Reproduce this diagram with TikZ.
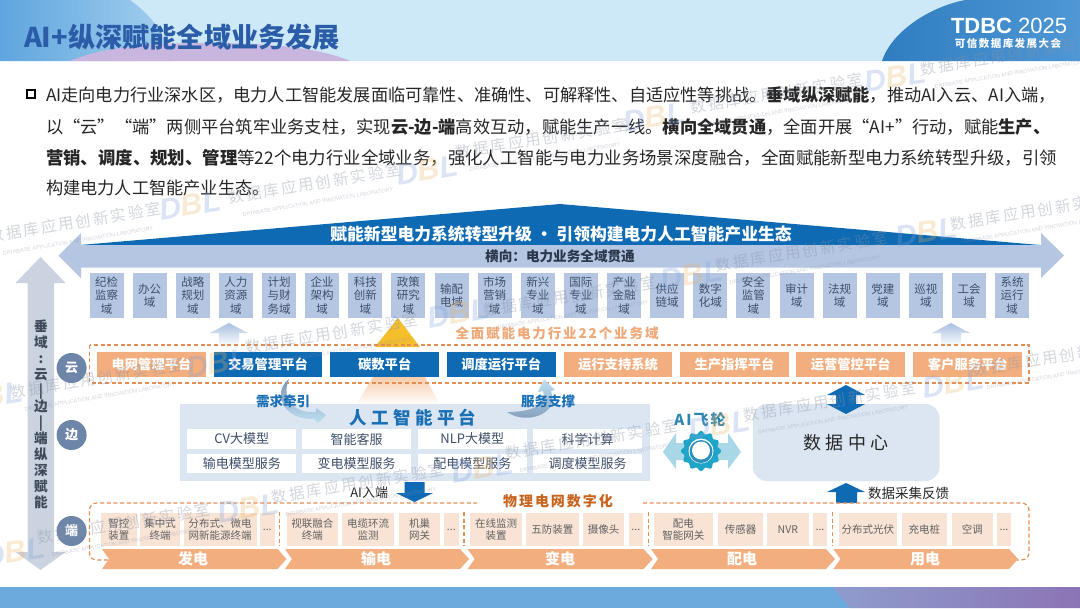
\documentclass[tikz,border=0pt]{standalone}
\usepackage{fontspec}
\setmainfont{Noto Sans CJK SC}
\newfontfamily\spaced[LetterSpace=14]{Noto Sans CJK SC}
\newfontfamily\spacedb[LetterSpace=25]{Noto Sans CJK SC}
\newfontfamily\latinf{Liberation Sans}
\usetikzlibrary{shapes.geometric,calc}
\definecolor{bdark}{HTML}{0F6AB4}
\definecolor{bband}{HTML}{B4C6E2}
\definecolor{oran}{HTML}{F2AE7E}
\definecolor{oranl}{HTML}{F8E3D5}
\definecolor{dashc}{HTML}{E58E52}
\definecolor{pale}{HTML}{DCE6F3}
\definecolor{slatec}{HTML}{6D85A8}
\definecolor{gtxt}{HTML}{3D4F6B}
\definecolor{hlight}{HTML}{CDE8F6}
\definecolor{hblue}{HTML}{5FA5DE}
\definecolor{hblue2}{HTML}{A4D0EE}
\definecolor{hpurple}{HTML}{C8B6DE}
\definecolor{rblue}{HTML}{2F7DC0}
\definecolor{rblue2}{HTML}{4F97D5}
\definecolor{band}{HTML}{6CA9DC}
\definecolor{bandp}{HTML}{8B74B5}
\definecolor{bandq}{HTML}{8F9CCD}
\definecolor{vgray}{HTML}{CBD3E0}
\definecolor{vtxt}{HTML}{3F4A5A}
\definecolor{titlec}{HTML}{2A5CA8}
\definecolor{ptitle}{HTML}{1B6FB5}
\definecolor{teal}{HTML}{1FA5C8}
\definecolor{teald}{HTML}{2C8FBC}
\definecolor{flyarrow}{HTML}{A8D8E8}
\definecolor{flytxt}{HTML}{2C86B0}
\definecolor{physc}{HTML}{C8641E}
\definecolor{empc}{HTML}{EFA878}
\definecolor{yel}{HTML}{F5BE2B}
\definecolor{swa}{HTML}{7C96B4}
\definecolor{swb}{HTML}{BFE0F2}
\definecolor{fadeb}{HTML}{A9C0E0}
\definecolor{peach}{HTML}{F7CDAD}
\definecolor{wmc}{HTML}{8A93A6}
\definecolor{wmo}{HTML}{E8B463}
\definecolor{wmb}{HTML}{7F9FD8}
\newcommand{\fs}[1]{\pgfmathsetmacro\fsA{#1*0.75}\pgfmathsetmacro\fsB{#1*0.75*1.17}\fontsize{\fsA pt}{\fsB pt}\selectfont}
\newcommand{\chevshape}[2]{(#1,549) -- ({#2-9},549) -- (#2,559) -- ({#2-9},569) -- (#1,569) -- ({#1+7},559) -- cycle}
\newcommand{\ddd}{{.}{.}{.}}
\newcommand{\wmtext}{{\spaced\fs{15.5}数据库应用创新实验室}\\[-1pt]{\latinf\fs{5.5}DATABASE APPLICATION AND INNOVATION LABORATORY}}
\tikzset{
 x=0.75pt,y=-0.75pt,
 every node/.style={inner sep=0,outer sep=0},
 dom/.style={fill=bband,text=gtxt,minimum width=25.5pt,minimum height=33.75pt,align=center,font=\fs{11.5}},
 plat/.style={minimum width=81.5pt,minimum height=18.75pt,text=white,font=\fs{13.3}\bfseries},
 platO/.style={plat,fill=oran},
 platB/.style={plat,fill=bdark},
 tier/.style={circle,fill=slatec,minimum size=22.5pt,text=white,font=\fs{13}\bfseries},
 model/.style={fill=white,minimum width=81.5pt,minimum height=14.5pt,text=gtxt,font=\fs{13}},
 dev/.style={fill=oranl,text=black!62,align=center,minimum height=24.75pt,font=\fs{10.5}},
 chevlab/.style={text=white,font=\fs{15}\bfseries},
 dline/.style={draw=dashc,dash pattern=on 3pt off 2pt,line width=0.9pt},
 para/.style={anchor=west,text=black!85},
 wmt/.style={rotate=9.5,text=wmc,opacity=0.38,align=center},
 wml/.style={rotate=9.5,opacity=0.28,font=\latinf\bfseries\itshape\fs{30}},
}
\begin{document}
\begin{tikzpicture}
\useasboundingbox (0,0) rectangle (1080,608);
\fill[white] (0,0) rectangle (1080,608);
% header
\fill[hlight] (0,0) rectangle (1080,61);
\shade[left color=hblue,right color=hblue2] (0,0) -- (130,0) .. controls (155,18) and (168,40) .. (172,61) -- (0,61) -- cycle;
\fill[hpurple] (70,61) .. controls (110,44) and (170,43) .. (210,43) .. controls (270,43) and (320,48) .. (350,61) -- cycle;
\shade[left color=rblue,right color=rblue2] (882,61) .. controls (890,35) and (925,8) .. (965,0) -- (1080,0) -- (1080,61) -- cycle;
\node[anchor=west,text=titlec,font=\fs{27.2}\bfseries] (title) at (24,37) {AI+纵深赋能全域业务发展};
\node[anchor=west,text=white,font=\latinf\fs{22}] (tdbc) at (951,26) {\textbf{TDBC} 2025};
\node[text=white,font=\spaced\fs{10.5}\bfseries] (tdbcsub) at (1008,44) {可信数据库发展大会};
% bottom band
\fill[band] (0,587) rectangle (1080,608);
\shade[left color=bandq,right color=bandp] (833,587) -- (1080,587) -- (1080,608) -- (850,608) -- cycle;
% paragraph
\draw[black,line width=1.3pt] (27,90) rectangle (35,98);
\node[para,font=\fs{17.2}] (l1) at (46,95) {AI走向电力行业深水区，电力人工智能发展面临可靠性、准确性、可解释性、自适应性等挑战。{\bfseries 垂域纵深赋能}，推动AI入云、AI入端，};
\node[para,font=\fs{17.25}] (l2) at (46,127) {以“云”“端”两侧平台筑牢业务支柱，实现{\bfseries 云-边-端}高效互动，赋能生产一线。{\bfseries 横向全域贯通}，全面开展“AI+”行动，赋能{\bfseries 生产、}};
\node[para,font=\fs{17.4}] (l3) at (46,158) {{\bfseries 营销、调度、规划、管理}等22个电力行业全域业务，强化人工智能与电力业务场景深度融合，全面赋能新型电力系统转型升级，引领};
\node[para,font=\fs{17.2}] (l4) at (46,188) {构建电力人工智能产业生态。};
% top banner
\fill[bdark] (80,245) -- (560,204) -- (1040,245) -- cycle;
\fill[bband] (58.5,255.5) -- (81,233) -- (81,245) -- (1041,245) -- (1041,233) -- (1064,255.5) -- (1041,278) -- (1041,267.5) -- (81,267.5) -- (81,278) -- cycle;
\node[text=white,font=\fs{16.8}\bfseries] (toptxt) at (561,234) {赋能新型电力系统转型升级 · 引领构建电力人工智能产业生态};
\node[text=gtxt!70!black,font=\fs{13.6}\bfseries] (hor) at (560,256) {横向：电力业务全域贯通};
% 22 domains
\foreach \t [count=\i] in {纪检\\监察\\域,办公\\域,战略\\规划\\域,人力\\资源\\域,计划\\与财\\务域,企业\\架构\\域,科技\\创新\\域,政策\\研究\\域,输配\\电域,市场\\营销\\域,新兴\\专业\\域,国际\\专业\\域,产业\\金融\\域,供应\\链域,数字\\化域,安全\\监管\\域,审计\\域,法规\\域,党建\\域,巡视\\域,工会\\域,系统\\运行\\域}
  \node[dom] (dom\i) at ({106.6+43.12*(\i-1)},295.5) {\t};
% fading up arrows
\shade[top color=fadeb,bottom color=white] (229,323) -- (248,333) -- (239,333) -- (239,346) -- (219,346) -- (219,333) -- (210,333) -- cycle;
\shade[top color=fadeb,bottom color=white] (951,323) -- (970,333) -- (961,333) -- (961,346) -- (941,346) -- (941,333) -- (932,333) -- cycle;
\fill[yel] (398,318) -- (420,347) -- (375,347) -- cycle;
\shade[top color=peach,bottom color=white] (373,377) -- (425,377) -- (440,405) -- (356,405) -- cycle;
\node[text=empc,font=\spaced\fs{13.5}\bfseries] (empow) at (557,333) {全面赋能电力行业22个业务域};
% left vertical arrow
\fill[vgray] (40.6,257) -- (65.5,283) -- (54,283) -- (54,552) -- (65.5,552) -- (40.6,570) -- (15.5,552) -- (27.5,552) -- (27.5,283) -- (15.5,283) -- cycle;
\node[text=vtxt,align=center,font=\fontsize{10.2pt}{12pt}\selectfont\bfseries] (vert) at (41,414) {垂\\域\\:\\云\\|\\边\\|\\端\\纵\\深\\赋\\能};
\node[tier] (tc) at (71.6,368) {云};
\node[tier] (te) at (71.6,435) {边};
\node[tier] (td) at (71.6,531) {端};
% cloud frame
\draw[dline] (89.5,345) rectangle (1029,383);
\foreach \n/\x/\s/\t in {p1/151.5/platO/电网管理平台,p2/268/platB/交易管理平台,p3/384.7/platB/碳数平台,p4/501.2/platB/调度运行平台,p5/618/platO/运行支持系统,p6/734.5/platO/生产指挥平台,p7/850.7/platO/运营管控平台,p8/967.8/platO/客户服务平台}
  \node[\s] (\n) at (\x,364.5) {\t};
% AI platform
\fill[pale] (180,404) rectangle (650,481);
% swooshes
\shade[top color=swa,bottom color=swb] (289,379) .. controls (272,392) and (282,420) .. (314,419) -- (318,423) -- (326,415) -- (316,408) -- (316,412) .. controls (296,414) and (280,400) .. (289,379) -- cycle;
\shade[top color=swb,bottom color=swa] (507,412) .. controls (525,425) and (560,415) .. (551,391) -- (555,390) -- (544,379) -- (538,392) -- (543,391) .. controls (548,408) and (525,412) .. (507,412) -- cycle;
\node[text=ptitle,font=\spacedb\fs{17.5}\bfseries] (aititle) at (413,418) {人工智能平台};
\node[text=ptitle,font=\fs{13.5}\bfseries] (need) at (283,401) {需求牵引};
\node[text=ptitle,font=\fs{13.5}\bfseries] (serve) at (548,401) {服务支撑};
\foreach \n/\x/\y/\t in {m1/241.8/439/CV大模型,m2/356.7/439/智能客服,m3/472.3/439/NLP大模型,m4/587.5/439/科学计算,m5/241.8/463.5/输电模型服务,m6/356.7/463.5/变电模型服务,m7/472.3/463.5/配电模型服务,m8/587.5/463.5/调度模型服务}
  \node[model] (\n) at (\x,\y) {\t};
% AI flywheel
\fill[flyarrow] (663,452) -- (676,433) -- (676,443) -- (728,443) -- (728,433) -- (741,452) -- (728,469) -- (728,460) -- (676,460) -- (676,469) -- cycle;
\fill[teal] plot[domain=0:360,samples=121,smooth] ({701+(18.6+1.5*cos(12*\x))*cos(\x)},{451+(18.6+1.5*cos(12*\x))*sin(\x)}) -- cycle;
\fill[white] (701,451) circle[radius=12.5];
\fill[teald] (701,451.5) circle[radius=11.5];
\fill[white] (701,450.5) circle[radius=9];
\node[text=flytxt,font=\spaced\fs{15}\bfseries] (fly) at (700,420) {AI飞轮};
% data centre
\fill[pale,rounded corners=10.5pt] (753,404) rectangle (939.5,481);
\node[text=black!85,font=\spacedb\fs{18}] (dc) at (846,443) {数据中心};
\fill[bdark] (846,385) -- (865,395) -- (856,395) -- (856,404) -- (865,404) -- (846,414) -- (827,404) -- (836,404) -- (836,395) -- (827,395) -- cycle;
\fill[bdark] (846,483) -- (865,492) -- (857,492) -- (857,503) -- (836,503) -- (836,492) -- (827,492) -- cycle;
\node[anchor=west,text=black!85,font=\fs{13.5}] (fb) at (868,493) {数据采集反馈};
\fill[bdark] (404.6,482) -- (424.6,482) -- (424.6,493) -- (433,493) -- (414.5,502) -- (396,493) -- (404.6,493) -- cycle;
\node[anchor=east,text=black!85,font=\fs{13}] (aiend) at (388,493) {AI入端};
\node[text=physc,font=\spaced\fs{14}\bfseries] (phys) at (558,501) {物理电网数字化};
% end frame
\draw[dline] (108,560) -- (97,560) .. controls (92,560) and (89.5,557) .. (89.5,552) -- (89.5,511) .. controls (89.5,506) and (92,503) .. (97,503) -- (477,503);
\draw[dline] (643,503) -- (1021,503) .. controls (1026,503) and (1029,506) .. (1029,511) -- (1029,552) .. controls (1029,557) and (1026,560) .. (1021,560) -- (1017,560);
\foreach \x in {279.6,464,648.5,832.7} \draw[dline] (\x,512) -- (\x,546);
\foreach \n/\a/\b/\t in {d1/101/136.7/智控\\装置,d2/140/180/集中式\\终端,d3/183.5/256.5/分布式、微电\\网新能源终端,d4/260/274.5/\ddd,d5/287/337.5/视联融合\\终端,d6/342/394/电缆环流\\监测,d7/399/440/机巢\\网关,d8/444/458.7/\ddd,d9/470/522/在线监测\\装置,d10/526/578.6/五防装置,d11/583/624/摄像头,d12/629/642.6/\ddd,d13/653.6/713/配电\\智能网关,d14/718/763/传感器,d15/767/808.6/NVR,d16/813/827/\ddd,d17/838.5/897/分布式光伏,d18/901.6/947/充电桩,d19/951.5/993/空调,d20/997/1011/\ddd}
  \node[dev,minimum width={(\b-\a)*0.75pt}] (\n) at ({(\a+\b)/2},529.5) {\t};
% chevrons
\fill[oran] \chevshape{102}{286.5};
\fill[oran] \chevshape{285}{469};
\fill[oran] \chevshape{467.6}{652.6};
\fill[oran] \chevshape{651}{835};
\fill[oran] \chevshape{833.4}{1018};
\node[chevlab] (c1) at (193,559) {发电};
\node[chevlab] (c2) at (376,559) {输电};
\node[chevlab] (c3) at (560,559) {变电};
\node[chevlab] (c4) at (742,559) {配电};
\node[chevlab] (c5) at (925,559) {用电};
% watermarks
\node[wmt] (marke) at (76,229) {\wmtext};
\foreach \k/\lx/\ly/\tx/\ty in {a/895/77/1005/57,b/654/117/775/95,c/427/170/540/140,d/190/205/313/185,f/926/232/1035/212,g/691/275/800/253,h/458/313/568/298,i/217/363/330/335,j/-8/396/95/380,k/953/383/1057/358,l/248/508/356/485,m/14/552/122/525,n/482/468/590/441,o/719/425/828/403}{
  \node[wml] (logo\k) at (\lx,\ly) {\textcolor{wmb}{D}\textcolor{wmo}{B}\textcolor{wmb}{L}};
  \node[wmt] (mark\k) at ({\tx+3},{\ty+5}) {\wmtext};
}
\end{tikzpicture}
\end{document}
